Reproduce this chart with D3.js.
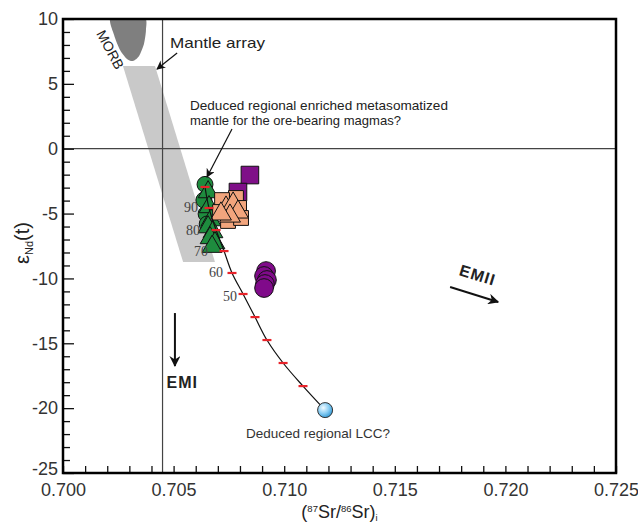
<!DOCTYPE html>
<html>
<head>
<meta charset="utf-8">
<script src="https://cdn.jsdelivr.net/npm/d3@7"></script>
<style>
  html, body { margin: 0; padding: 0; background: #fff; }
  svg { display: block; font-family: "Liberation Sans", Arial, sans-serif; }
</style>
</head>
<body>
<svg id="chart" width="638" height="524"></svg>
<script>
// ---- axis ticks ----
const xMajorTicks = [0.700, 0.705, 0.710, 0.715, 0.720, 0.725];
const xMinorTicks = d3.range(0, 26).map(i => +(0.700 + i * 0.001).toFixed(3));
const yMajorTicks = [10, 5, 0, -5, -10, -15, -20, -25];
const yMinorTicks = d3.range(-25, 11);

// ---- reference lines ----
const bulkEarthSr = 0.7045;
const chondriteNd = 0;

// ---- MORB field outline (Sr, Nd) ----
const morbSr = [0.70217, 0.70231, 0.70258, 0.70289, 0.70316, 0.70344, 0.70366, 0.70375, 0.70366];
const morbNd = [10.15, 8.77, 7.61, 6.92, 6.76, 7.15, 8.07, 9.15, 10.15];

// ---- mantle array band (Sr, Nd) ----
const mantleSr = [0.70271, 0.70416, 0.70687, 0.70543];
const mantleNd = [6.38, 6.38, -8.74, -8.74];

// ---- enriched mantle – LCC mixing curve ----
const mixFraction = [100, 90, 80, 70, 60, 50, 40, 30, 20, 10, 0];
const mixSr = [0.70642, 0.70660, 0.70692, 0.70728, 0.70764, 0.70814, 0.70868, 0.70922, 0.70995, 0.71085, 0.71185];
const mixNd = [-2.95, -4.57, -6.27, -7.89, -9.58, -11.20, -12.98, -14.75, -16.52, -18.30, -20.15];
const mixLabels = ["90", "80", "70", "60", "50"];

// ---- samples ----
const greenTriSr = [0.70656, 0.70660, 0.70669, 0.70656, 0.70678, 0.70665, 0.70687, 0.70674];
const greenTriNd = [-3.34, -4.49, -5.50, -6.04, -6.42, -6.88, -7.27, -7.55];
const greenCircSr = [0.70642, 0.70637, 0.70647, 0.70652];
const greenCircNd = [-2.75, -3.96, -5.03, -5.80];

const salmonSqSr = [0.70782, 0.70719, 0.70796, 0.70746, 0.70805, 0.70710];
const salmonSqNd = [-3.80, -3.96, -4.57, -5.57, -5.34, -4.88];
const salmonTriSr = [0.70737, 0.70769, 0.70791, 0.70755, 0.70714];
const salmonTriNd = [-4.57, -4.26, -4.88, -5.19, -5.03];

const purpleSqSr = [0.70845, 0.70791];
const purpleSqNd = [-2.03, -3.34];
const purpleCircSr = [0.70918, 0.70909, 0.70922, 0.70913, 0.70909];
const purpleCircNd = [-9.43, -9.81, -10.12, -10.43, -10.74];

const lccSr = [0.71185];
const lccNd = [-20.15];

// ---- layout ----
const svg = d3.select("#chart");
const x = d3.scaleLinear().domain([0.700, 0.725]).range([63, 616]);
const y = d3.scaleLinear().domain([-25, 10]).range([473, 19]);
// offset of each mixing-percentage label from its tick
const mixLabelDx = { "90": -11, "80": -16, "70": -16, "60": -9, "50": -6 };
const mixLabelDy = { "90": 4, "80": 5, "70": 5, "60": 4, "50": 7 };

const defs = svg.append("defs");
defs.append("clipPath").attr("id", "plotClip")
  .append("rect").attr("x", 63).attr("y", 19).attr("width", 553).attr("height", 454);
defs.append("marker").attr("id", "arrowHead")
  .attr("viewBox", "0 0 10 10").attr("refX", 9).attr("refY", 5)
  .attr("markerWidth", 9).attr("markerHeight", 9).attr("markerUnits", "userSpaceOnUse")
  .attr("orient", "auto")
  .append("path").attr("d", "M0,0 L10,5 L0,10 L3,5 Z").attr("fill", "#111");
defs.append("marker").attr("id", "arrowHeadBig")
  .attr("viewBox", "0 0 10 10").attr("refX", 9).attr("refY", 5)
  .attr("markerWidth", 13).attr("markerHeight", 11).attr("markerUnits", "userSpaceOnUse")
  .attr("orient", "auto")
  .append("path").attr("d", "M0,0 L10,5 L0,10 L3,5 Z").attr("fill", "#111");
const grad = defs.append("radialGradient").attr("id", "lccGrad")
  .attr("cx", "38%").attr("cy", "35%").attr("r", "65%");
grad.append("stop").attr("offset", "0%").attr("stop-color", "#f2fbff");
grad.append("stop").attr("offset", "55%").attr("stop-color", "#8fd0f4");
grad.append("stop").attr("offset", "100%").attr("stop-color", "#3b9ed8");

const plot = svg.append("g").attr("clip-path", "url(#plotClip)");

// mantle array band
plot.append("path")
  .attr("d", d3.line().x((d, i) => x(mantleSr[i])).y((d, i) => y(mantleNd[i]))(mantleSr) + "Z")
  .attr("fill", "#c9c9c9");

// MORB field
plot.append("path")
  .attr("d", d3.line().curve(d3.curveCardinalClosed.tension(0.3))
    .x((d, i) => x(morbSr[i])).y((d, i) => y(morbNd[i]))(morbSr))
  .attr("fill", "#7f7f7f");

// reference lines
plot.append("line")
  .attr("x1", x(0.700)).attr("x2", x(0.725)).attr("y1", y(chondriteNd)).attr("y2", y(chondriteNd))
  .attr("stroke", "#444").attr("stroke-width", 1.2);
plot.append("line")
  .attr("x1", x(bulkEarthSr)).attr("x2", x(bulkEarthSr)).attr("y1", y(10)).attr("y2", y(-25))
  .attr("stroke", "#444").attr("stroke-width", 1.2);

// sample symbols
function drawSymbols(srArr, ndArr, type, size, fill) {
  plot.append("g").selectAll("path").data(srArr).join("path")
    .attr("transform", (d, i) => `translate(${x(d)},${y(ndArr[i])})`)
    .attr("d", d3.symbol().type(type).size(size)())
    .attr("fill", fill).attr("stroke", "#111").attr("stroke-width", 1);
}
drawSymbols(purpleSqSr, purpleSqNd, d3.symbolSquare, 310, "#7f0f88");
drawSymbols(greenCircSr, greenCircNd, d3.symbolCircle, 200, "#1e8c3e");
drawSymbols(greenTriSr, greenTriNd, d3.symbolTriangle, 170, "#1e8c3e");
drawSymbols(salmonSqSr, salmonSqNd, d3.symbolSquare, 220, "#f2a57d");
drawSymbols(salmonTriSr, salmonTriNd, d3.symbolTriangle, 190, "#f2a57d");
drawSymbols(purpleCircSr, purpleCircNd, d3.symbolCircle, 275, "#800a8a");

// mixing curve
plot.append("path")
  .attr("d", d3.line().curve(d3.curveCatmullRom)
    .x((d, i) => x(mixSr[i])).y((d, i) => y(mixNd[i]))(mixSr))
  .attr("fill", "none").attr("stroke", "#111").attr("stroke-width", 1.2);
plot.append("g").selectAll("line").data(mixFraction.slice(0, -1)).join("line")
  .attr("x1", (d, i) => x(mixSr[i]) - 4.5).attr("x2", (d, i) => x(mixSr[i]) + 4.5)
  .attr("y1", (d, i) => y(mixNd[i])).attr("y2", (d, i) => y(mixNd[i]))
  .attr("stroke", "#e8232a").attr("stroke-width", 2.2);
svg.append("g").selectAll("text").data(mixLabels).join("text")
  .attr("x", d => x(mixSr[mixFraction.indexOf(+d)]) + mixLabelDx[d])
  .attr("y", d => y(mixNd[mixFraction.indexOf(+d)]) + mixLabelDy[d])
  .attr("text-anchor", "end")
  .attr("font-family", "'Liberation Serif', 'Times New Roman', serif")
  .attr("font-size", 14).attr("fill", "#444")
  .text(d => d);

// LCC end member
plot.append("g").selectAll("circle").data(lccSr).join("circle")
  .attr("cx", d => x(d)).attr("cy", (d, i) => y(lccNd[i])).attr("r", 7.5)
  .attr("fill", "url(#lccGrad)").attr("stroke", "#333").attr("stroke-width", 1);

// ---- axes (ticks pointing inward) ----
const xAxis = svg.append("g").attr("transform", `translate(0,${y(-25)})`)
  .call(d3.axisBottom(x).tickValues(xMinorTicks).tickSizeInner(-7).tickSizeOuter(0)
    .tickPadding(10).tickFormat(d => xMajorTicks.some(t => Math.abs(t - d) < 1e-9) ? d3.format(".3f")(d) : ""));
xAxis.select(".domain").remove();
xAxis.selectAll(".tick line").attr("stroke", "#111").attr("stroke-width", 1.3);
xAxis.selectAll(".tick text").attr("font-size", 18).attr("fill", "#333")
  .attr("font-family", "'Liberation Sans', Arial, sans-serif");

const yAxis = svg.append("g").attr("transform", `translate(${x(0.700)},0)`)
  .call(d3.axisLeft(y).tickValues(yMinorTicks).tickSizeInner(-7).tickSizeOuter(0)
    .tickPadding(5).tickFormat(d => yMajorTicks.includes(d) ? d : ""));
yAxis.select(".domain").remove();
yAxis.selectAll(".tick line").attr("stroke", "#111").attr("stroke-width", 1.3)
  .attr("x2", d => yMajorTicks.includes(d) ? 11 : 7);
yAxis.selectAll(".tick text").attr("font-size", 18).attr("fill", "#333")
  .attr("font-family", "'Liberation Sans', Arial, sans-serif")
  .attr("dy", d => d === -25 ? "0.1em" : "0.32em");

// frame
svg.append("rect")
  .attr("x", x(0.700)).attr("y", y(10))
  .attr("width", x(0.725) - x(0.700)).attr("height", y(-25) - y(10))
  .attr("fill", "none").attr("stroke", "#000").attr("stroke-width", 2.5);

// axis titles
const yTitle = svg.append("text")
  .attr("transform", `translate(29,243) rotate(-90)`)
  .attr("text-anchor", "middle").attr("font-size", 20).attr("fill", "#222");
yTitle.append("tspan").text("ε");
yTitle.append("tspan").attr("font-size", 11).attr("dy", 4).text("Nd");
yTitle.append("tspan").attr("dy", -4).text("(t)");

const xTitle = svg.append("text")
  .attr("x", (x(0.700) + x(0.725)) / 2).attr("y", 518)
  .attr("text-anchor", "middle").attr("font-size", 18).attr("fill", "#222");
xTitle.append("tspan").text("(");
xTitle.append("tspan").attr("font-size", 9.5).attr("dy", -6).text("87");
xTitle.append("tspan").attr("dy", 6).text("Sr/");
xTitle.append("tspan").attr("font-size", 9.5).attr("dy", -6).text("86");
xTitle.append("tspan").attr("dy", 6).text("Sr)");
xTitle.append("tspan").attr("font-size", 9.5).attr("dy", 3).text("i");

// ---- annotations ----
const ann = svg.append("g").attr("fill", "#222");

ann.append("text")
  .attr("transform", `translate(${x(0.70194)},${y(7.45)}) rotate(62)`)
  .attr("text-anchor", "middle").attr("font-size", 14).text("MORB");

ann.append("text").attr("x", x(0.70484)).attr("y", y(7.76))
  .attr("font-size", 15).attr("textLength", 95).attr("lengthAdjust", "spacingAndGlyphs")
  .text("Mantle array");
ann.append("line")
  .attr("x1", x(0.70516)).attr("y1", y(7.38)).attr("x2", x(0.70425)).attr("y2", y(6.14))
  .attr("stroke", "#111").attr("stroke-width", 1.2).attr("marker-end", "url(#arrowHead)");

ann.append("text").attr("x", x(0.70574)).attr("y", y(3.02))
  .attr("font-size", 13.5).attr("textLength", 258).attr("lengthAdjust", "spacingAndGlyphs")
  .text("Deduced  regional enriched metasomatized");
ann.append("text").attr("x", x(0.70574)).attr("y", y(1.86))
  .attr("font-size", 13.5).attr("textLength", 211).attr("lengthAdjust", "spacingAndGlyphs")
  .text("mantle for the ore-bearing magmas?");
ann.append("line")
  .attr("x1", x(0.70764)).attr("y1", y(1.52)).attr("x2", x(0.70651)).attr("y2", y(-2.18))
  .attr("stroke", "#111").attr("stroke-width", 1.2).attr("marker-end", "url(#arrowHead)");

ann.append("line")
  .attr("x1", x(0.70506)).attr("y1", y(-12.67)).attr("x2", x(0.70506)).attr("y2", y(-16.75))
  .attr("stroke", "#111").attr("stroke-width", 2).attr("marker-end", "url(#arrowHeadBig)");
ann.append("text").attr("x", x(0.70468)).attr("y", y(-18.45))
  .attr("font-size", 16).attr("font-weight", "bold").attr("letter-spacing", 1).text("EMI");

ann.append("text")
  .attr("transform", `translate(${x(0.71867)},${y(-10.15)}) rotate(17)`)
  .attr("text-anchor", "middle").attr("font-size", 16).attr("font-weight", "bold")
  .attr("letter-spacing", 1).text("EMII");
ann.append("line")
  .attr("x1", x(0.71750)).attr("y1", y(-10.66)).attr("x2", x(0.71967)).attr("y2", y(-11.82))
  .attr("stroke", "#111").attr("stroke-width", 2).attr("marker-end", "url(#arrowHeadBig)");

ann.append("text").attr("x", x(0.70827)).attr("y", y(-22.3))
  .attr("font-size", 13.5).attr("fill", "#333").text("Deduced regional LCC?");
</script>
</body>
</html>
